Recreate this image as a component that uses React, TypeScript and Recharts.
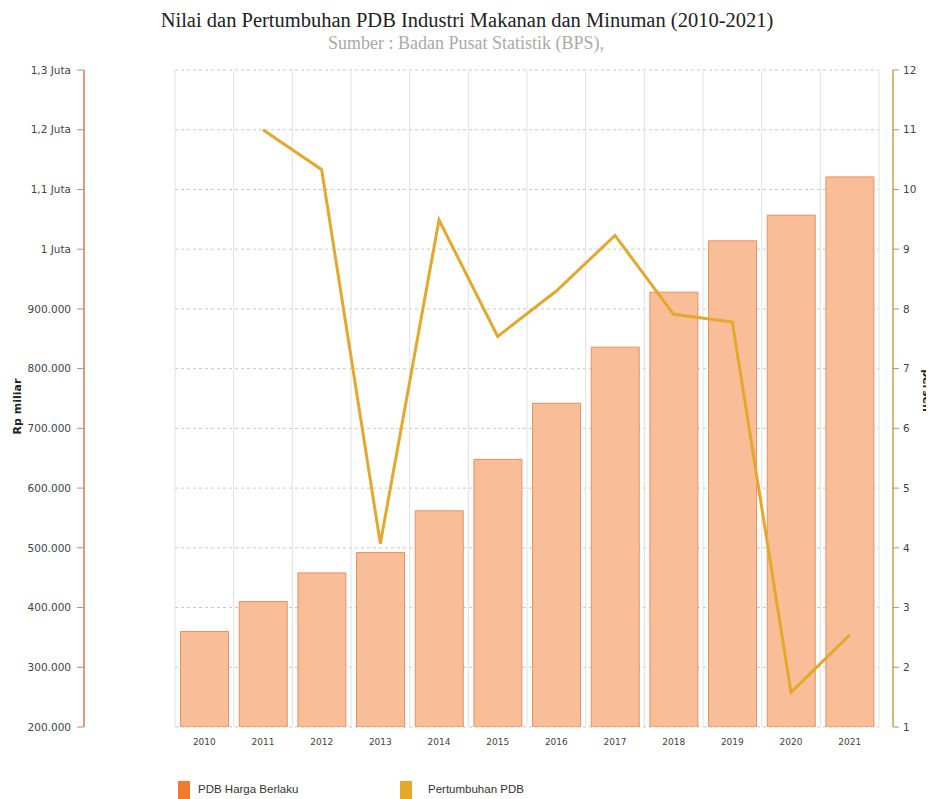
import React from "react";
import { ComposedChart, Bar, Line, XAxis, YAxis, CartesianGrid } from "recharts";

const years = ["2010", "2011", "2012", "2013", "2014", "2015", "2016", "2017", "2018", "2019", "2020", "2021"];
// PDB atas dasar harga berlaku (Rp miliar)
const pdbHargaBerlaku = [360000, 410000, 458000, 492000, 562000, 648000, 742000, 836000, 928000, 1014000, 1057000, 1121000];
// Pertumbuhan PDB (persen)
const pertumbuhanPdb = [null, 11.0, 10.33, 4.07, 9.49, 7.54, 8.3, 9.23, 7.91, 7.78, 1.58, 2.54];
const leftTicks = [200000, 300000, 400000, 500000, 600000, 700000, 800000, 900000, 1000000, 1100000, 1200000, 1300000];
const rightTicks = [1, 2, 3, 4, 5, 6, 7, 8, 9, 10, 11, 12];

const BAR_FILL = "#f9bd98";
const BAR_STROKE = "#e8915f";
const BAR_LEGEND = "#f27a2b";
const LINE_COLOR = "#e4a92c";
const FONT = "'DejaVu Sans', sans-serif";

const data = years.map((year, i) => ({
  year,
  pdb: pdbHargaBerlaku[i],
  growth: pertumbuhanPdb[i],
}));

const formatRupiah = (v: number) =>
  v >= 1000000 ? `${(v / 1000000).toString().replace(".", ",")} Juta` : `${v / 1000}.000`;

const legendText: React.CSSProperties = {
  position: "absolute",
  top: 775,
  fontFamily: "'Liberation Sans', sans-serif",
  fontSize: 11.5,
  color: "#333",
};

const App: React.FC = () => {
  return (
    <div style={{ position: "relative", width: 926, height: 791, overflow: "hidden", background: "#fff" }}>
      <div
        style={{
          position: "absolute",
          top: 1,
          left: 0,
          width: 918,
          textAlign: "center",
          fontFamily: "'Liberation Serif', serif",
          fontSize: 20.5,
          color: "#222",
        }}
      >
        Nilai dan Pertumbuhan PDB Industri Makanan dan Minuman (2010-2021)
      </div>
      <div
        style={{
          position: "absolute",
          top: 25,
          left: 0,
          width: 916,
          textAlign: "center",
          fontFamily: "'Liberation Serif', serif",
          fontSize: 18,
          color: "#aaa",
        }}
      >
        Sumber : Badan Pusat Statistik (BPS),
      </div>

      <ComposedChart
        width={926}
        height={791}
        data={data}
        margin={{ top: 62, right: 0, bottom: 0, left: 0 }}
        barCategoryGap="9.5%"
      >
        <CartesianGrid
          yAxisId="left"
          horizontal={true}
          vertical={false}
          stroke="#c8c8c8"
          strokeDasharray="3 3"
        />
        <CartesianGrid
          yAxisId="left"
          horizontal={false}
          vertical={true}
          stroke="#e2e2e2"
          verticalCoordinatesGenerator={({ offset }: any) =>
            [...years, ""].map((_, i) => offset.left + (i * offset.width) / years.length)
          }
        />
        <XAxis
          dataKey="year"
          height={72}
          axisLine={false}
          tickLine={false}
          tickMargin={6}
          interval={0}
          tick={{ fill: "#444", fontSize: 9, fontFamily: FONT }}
        />
        {/* empty axes used as gaps between the plot and the scales */}
        <YAxis yAxisId="gapLeft" width={91} domain={[0, 1]} tick={false} axisLine={false} tickLine={false} />
        <YAxis
          yAxisId="gapRight"
          orientation="right"
          width={14}
          domain={[0, 1]}
          tick={false}
          axisLine={false}
          tickLine={false}
        />
        <YAxis
          yAxisId="left"
          width={76}
          domain={[200000, 1300000]}
          ticks={leftTicks}
          allowDataOverflow
          tickFormatter={formatRupiah}
          tickSize={7}
          tickMargin={6}
          tickLine={{ stroke: "#999" }}
          axisLine={{ stroke: "#e39c76", strokeWidth: 2 }}
          tick={{ fill: "#444", fontSize: 10.5, fontFamily: FONT }}
          label={({ viewBox }: any) => {
            const cx = viewBox.x + 9;
            const cy = viewBox.y + viewBox.height / 2 + 8;
            return (
              <text
                x={cx}
                y={cy}
                transform={`rotate(-90 ${cx} ${cy})`}
                textAnchor="middle"
                dominantBaseline="central"
                fontFamily={FONT}
                fontSize={11}
                fontWeight="bold"
                fill="#222"
              >
                Rp miliar
              </text>
            );
          }}
        />
        <YAxis
          yAxisId="right"
          orientation="right"
          width={41}
          domain={[1, 12]}
          ticks={rightTicks}
          allowDataOverflow
          tickSize={6}
          tickMargin={4}
          tickLine={{ stroke: "#999" }}
          axisLine={{ stroke: "#d8b774", strokeWidth: 2 }}
          tick={{ fill: "#444", fontSize: 10.5, fontFamily: FONT }}
          label={({ viewBox }: any) => {
            const cx = viewBox.x + 33;
            const cy = viewBox.y + viewBox.height / 2 - 8;
            return (
              <text
                x={cx}
                y={cy}
                transform={`rotate(90 ${cx} ${cy})`}
                textAnchor="middle"
                dominantBaseline="central"
                fontFamily={FONT}
                fontSize={11}
                fontWeight="bold"
                fill="#222"
              >
                persen
              </text>
            );
          }}
        />
        <Bar
          yAxisId="left"
          dataKey="pdb"
          name="PDB Harga Berlaku"
          fill={BAR_FILL}
          stroke={BAR_STROKE}
          strokeWidth={1}
          isAnimationActive={false}
        />
        <Line
          yAxisId="right"
          type="linear"
          dataKey="growth"
          name="Pertumbuhan PDB"
          stroke={LINE_COLOR}
          strokeWidth={3}
          dot={false}
          activeDot={false}
          connectNulls={false}
          isAnimationActive={false}
        />
      </ComposedChart>

      <span style={{ position: "absolute", top: 773, left: 170, width: 12, height: 18, background: BAR_LEGEND }} />
      <span style={{ ...legendText, left: 190 }}>PDB Harga Berlaku</span>
      <span style={{ position: "absolute", top: 773, left: 392, width: 12, height: 18, background: LINE_COLOR }} />
      <span style={{ ...legendText, left: 420 }}>Pertumbuhan PDB</span>
    </div>
  );
};

export default App;
